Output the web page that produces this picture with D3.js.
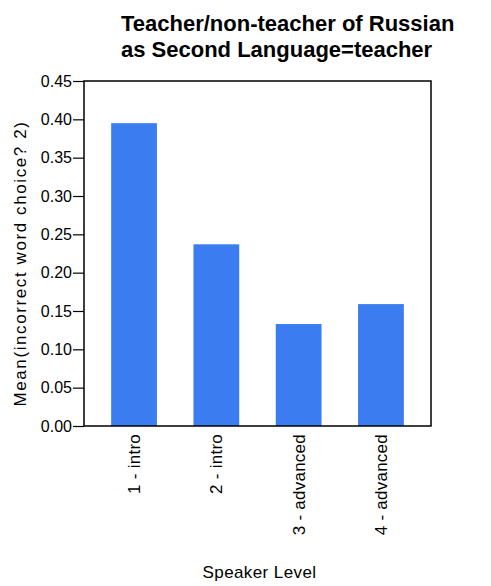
<!DOCTYPE html>
<html lang="en">
<head>
    <meta charset="UTF-8">
    <title>Teacher/non-teacher of Russian as Second Language=teacher</title>
    <script src="https://d3js.org/d3.v7.min.js"></script>
    <style>
        body {
            margin: 0;
            padding: 0;
            background: #fff;
            font-family: Arial, "Liberation Sans", sans-serif;
        }
        svg {
            display: block;
        }
        .title {
            font-size: 22px;
            font-weight: bold;
        }
        .y-axis .tick text {
            font-size: 16px;
            fill: #000;
        }
        .x-axis .tick text {
            font-size: 17px;
            letter-spacing: 0.25px;
            fill: #000;
        }
        .label {
            font-size: 17px;
        }
    </style>
</head>
<body>
    <svg width="491" height="586"></svg>

    <script>
        // Data
        const categories = ["1 - intro", "2 - intro", "3 - advanced", "4 - advanced"];
        const means = [0.395, 0.237, 0.133, 0.159];
        const yTicks = [0, 0.05, 0.10, 0.15, 0.20, 0.25, 0.30, 0.35, 0.40, 0.45];

        const margin = { top: 81, right: 60, bottom: 160, left: 84 };
        const width = 491 - margin.left - margin.right;
        const height = 586 - margin.top - margin.bottom;

        const svg = d3.select("svg");

        // Title, left aligned over two lines
        const title = svg.append("text")
            .attr("class", "title");
        title.append("tspan").attr("x", 121).attr("y", 31).text("Teacher/non-teacher of Russian");
        title.append("tspan").attr("x", 121).attr("y", 57).text("as Second Language=teacher");

        const g = svg.append("g")
            .attr("transform", `translate(${margin.left},${margin.top})`);

        const x = d3.scaleBand()
            .domain(categories)
            .range([0, width])
            .paddingInner(0.444)
            .paddingOuter(0.33);

        const y = d3.scaleLinear()
            .domain([0, 0.45])
            .range([height, 0]);

        // bars
        g.selectAll(".bar")
            .data(categories.map((c, i) => ({ cat: c, value: means[i] })))
            .enter()
            .append("rect")
            .attr("class", "bar")
            .attr("fill", "#3b7cf0")
            .attr("x", d => x(d.cat))
            .attr("y", d => y(d.value))
            .attr("width", x.bandwidth())
            .attr("height", d => height - y(d.value));

        // frame
        g.append("rect")
            .attr("width", width)
            .attr("height", height)
            .attr("fill", "none")
            .attr("stroke", "#000")
            .attr("stroke-width", 1.5);

        // y axis
        const yAxis = g.append("g")
            .attr("class", "y-axis")
            .call(d3.axisLeft(y).tickValues(yTicks).tickFormat(d3.format(".2f")).tickSize(11).tickPadding(1));
        yAxis.select(".domain").remove();
        yAxis.selectAll("line").attr("stroke-width", 1.2);

        // x axis labels, rotated
        const xAxis = g.append("g")
            .attr("class", "x-axis")
            .attr("transform", `translate(0,${height})`)
            .call(d3.axisBottom(x).tickSize(0));
        xAxis.select(".domain").remove();
        xAxis.selectAll(".tick text")
            .attr("transform", "rotate(-90)")
            .attr("text-anchor", "end")
            .attr("x", -8)
            .attr("y", 0)
            .attr("dy", "0.35em");

        // axis titles
        svg.append("text")
            .attr("class", "label")
            .attr("text-anchor", "middle")
            .style("letter-spacing", "0.4px")
            .attr("x", margin.left + width / 2 + 2)
            .attr("y", 578)
            .text("Speaker Level");

        svg.append("text")
            .attr("class", "label")
            .attr("text-anchor", "middle")
            .style("letter-spacing", "1.6px")
            .attr("transform", `translate(26,${margin.top + height / 2 + 10}) rotate(-90)`)
            .text("Mean(incorrect word choice? 2)");
    </script>
</body>
</html>
